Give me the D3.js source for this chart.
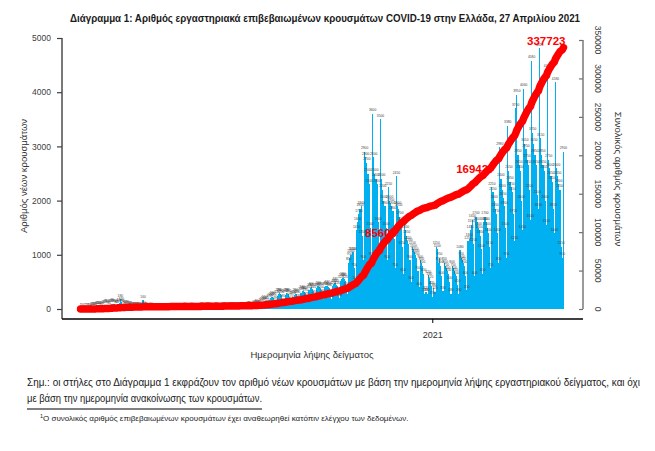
<!DOCTYPE html>
<html>
<head>
<meta charset="utf-8">
<script src="https://cdn.jsdelivr.net/npm/d3@7"></script>
<style>
  body { margin: 0; background: #fff; }
  text { font-family: "Liberation Sans Narrow", "Liberation Sans", Arial, sans-serif; }
</style>
</head>
<body>
<div id="chart"></div>

<script>
// daily new cases by sample date, one array per month (first day: 26 Feb 2020)
const startDate = "2020-02-26";
const feb2020 = [1, 2, 0, 1];
const mar2020 = [2,2,3,5,10,12,20,25,30,35,40,45,50,40,35,50,60,70,75,80,60,55,80,90,95,85,90,70,65,90,110];
const apr2020 = [180,120,90,70,50,60,70,55,50,45,30,25,30,25,20,25,30,20,15,20,160,40,25,20,15,10,15,20,15,10];
const may2020 = [10,8,5,12,15,10,12,15,8,4,10,12,15,10,8,6,3,10,12,8,15,10,5,3,8,10,12,20,15,6,4];
const jun2020 = [10,15,20,12,15,10,5,12,15,18,20,25,10,8,15,20,25,18,20,12,8,15,18,20,25,15,10,8,15,20];
const jul2020 = [20,25,18,12,8,20,25,30,35,30,20,15,25,30,35,30,25,15,10,30,35,40,45,40,25,20,50,60,70,80,60];
const aug2020 = [70,50,100,120,130,150,140,110,70,170,200,220,230,210,160,100,240,280,290,270,250,180,110,260,290,280,270,230,170,100,230];
const sep2020 = [250,280,270,240,180,110,300,340,330,320,290,220,150,350,380,400,370,340,250,170,380,420,400,390,350,260,180,400,420,430];
const oct2020 = [400,380,250,180,420,460,480,450,420,300,200,520,560,580,560,520,400,280,850,950,1000,1050,1050,750,500,1450,1600,1750,1850,1900,1350];
const nov2020 = [900,2900,2800,2700,2500,2300,1500,950,3600,2800,2500,2400,2300,1600,1050,3500,2400,2200,2000,1900,1500,900,2250,2000,1950,1900,1800,1300,750,2450];
const dec2020 = [1900,1850,1700,1600,1150,650,1550,1450,1350,1250,1200,900,500,1150,1100,1050,1000,950,700,400,900,850,800,650,280,320,280,620,580,520,420];
const jan2021 = [230,380,320,1150,1100,850,950,800,600,330,850,800,750,700,650,500,280,800,750,700,650,600,450,280,1080,950,900,850,800,600,350];
const feb2021 = [1250,1300,1450,1550,1650,1200,600,1700,1600,1500,1450,1350,1100,650,1600,1700,1600,1500,1400,1150,750,2250,2150,2000,1850,1750,1400,850];
const mar2021 = [2980,2400,2200,2050,1900,1500,950,3380,2550,2350,2250,2150,1750,1250,3700,3950,2850,2650,2550,2000,1450,4060,3050,2950,2750,2650,2200,1650,4580,3250,3050];
const apr2021 = [2850,2650,2100,1850,4810,3150,2850,2650,2550,2000,1550,4420,2750,2600,2450,2350,1850,1400,4180,2600,2450,2300,2200,1150,950,2900];

// labelled points of the cumulative line
const cumLabelDates = ["2020-11-20", "2021-02-11", "2021-04-26"];
const cumLabelTexts = ["85609", "169427", "337723"];

const leftTicks = [0, 1000, 2000, 3000, 4000, 5000];
const rightTicks = [0, 50000, 100000, 150000, 200000, 250000, 300000, 350000];

const title = "Διάγραμμα 1: Αριθμός εργαστηριακά επιβεβαιωμένων κρουσμάτων COVID-19 στην Ελλάδα, 27 Απριλίου 2021";
const leftTitle = "Αριθμός νέων κρουσμάτων";
const rightTitle = "Συνολικός αριθμός κρουσμάτων";
const xTitle = "Ημερομηνία λήψης δείγματος";
const note1 = "Σημ.: οι στήλες στο Διάγραμμα 1 εκφράζουν τον αριθμό νέων κρουσμάτων με βάση την ημερομηνία λήψης εργαστηριακού δείγματος, και όχι";
const note2 = "με βάση την ημερομηνία ανακοίνωσης των κρουσμάτων.";
const footnote = "Ο συνολικός αριθμός επιβεβαιωμένων κρουσμάτων έχει αναθεωρηθεί κατόπιν ελέγχου των δεδομένων.";

// ---------------------------------------------------------------
const values = [].concat(feb2020, mar2020, apr2020, may2020, jun2020, jul2020,
  aug2020, sep2020, oct2020, nov2020, dec2020, jan2021, feb2021, mar2021, apr2021);
const parse = d3.timeParse("%Y-%m-%d");
const fmt = d3.timeFormat("%Y-%m-%d");
const t0 = parse(startDate);
const cum = Array.from(d3.cumsum(values));
const data = values.map((v, i) => ({ date: d3.timeDay.offset(t0, i), value: v, total: cum[i] }));

const W = 655, H = 451;
const svg = d3.select("#chart").append("svg")
  .attr("width", W).attr("height", H)
  .style("background", "#fff");

const x = d3.scaleBand()
  .domain(data.map(d => fmt(d.date)))
  .range([80, 564])
  .paddingInner(0);

const yL = d3.scaleLinear().domain([0, 5000]).range([309, 38]);
const yR = d3.scaleLinear().domain([0, 350000]).range([309, 40]);

const cx = d => x(fmt(d.date)) + x.bandwidth() / 2;

// title
svg.append("text")
  .attr("x", 325).attr("y", 22)
  .attr("text-anchor", "middle")
  .attr("font-size", 10.5).attr("font-weight", "bold")
  .attr("textLength", 510).attr("lengthAdjust", "spacingAndGlyphs")
  .attr("fill", "#1a1a1a")
  .text(title);

// bars
svg.append("g").attr("shape-rendering", "crispEdges").selectAll("rect")
  .data(data)
  .join("rect")
    .attr("x", d => x(fmt(d.date)))
    .attr("y", d => yL(d.value))
    .attr("width", x.bandwidth())
    .attr("height", d => yL(0) - yL(d.value))
    .attr("fill", "#00b0f0");

// value labels on every bar
svg.append("g").selectAll("text")
  .data(data)
  .join("text")
    .attr("x", cx)
    .attr("y", d => yL(d.value) - 2.5)
    .attr("text-anchor", "middle")
    .attr("font-size", 3.3)
    .attr("fill", "#444")
    .text(d => d.value);

// left axis
const gL = svg.append("g").attr("transform", "translate(62,0)")
  .call(d3.axisLeft(yL).tickValues(leftTicks).tickSize(5).tickPadding(6).tickFormat(d3.format("d")));
gL.select(".domain").remove();
gL.selectAll(".tick line").attr("stroke", "#404040").attr("stroke-width", 1.2);
gL.selectAll(".tick text").attr("font-size", 8.5).attr("fill", "#404040")
  .style("font-family", "'Liberation Sans', Arial, sans-serif");
svg.append("line").attr("x1", 62).attr("x2", 62).attr("y1", 38).attr("y2", 319)
  .attr("stroke", "#404040").attr("stroke-width", 1.4);

// right axis
const gR = svg.append("g").attr("transform", "translate(583,0)")
  .call(d3.axisLeft(yR).tickValues(rightTicks).tickSize(4).tickFormat(""));
gR.select(".domain").remove();
gR.selectAll(".tick line").attr("stroke", "#707070").attr("stroke-width", 1.2);
svg.append("line").attr("x1", 583).attr("x2", 583).attr("y1", 40).attr("y2", 309)
  .attr("stroke", "#707070").attr("stroke-width", 1.4);
svg.append("g").selectAll("text")
  .data(rightTicks)
  .join("text")
    .attr("transform", d => `translate(595,${yR(d)}) rotate(90)`)
    .attr("text-anchor", "middle")
    .attr("font-size", 8.5)
    .attr("fill", "#404040")
    .style("font-family", "'Liberation Sans', Arial, sans-serif")
    .text(d => d3.format("d")(d));

// bottom axis line and the single year label
svg.append("line").attr("x1", 62).attr("x2", 583).attr("y1", 319).attr("y2", 319)
  .attr("stroke", "#000").attr("stroke-width", 1.4);
const jan1 = data.find(d => fmt(d.date) === "2021-01-01");
svg.append("line").attr("x1", cx(jan1)).attr("x2", cx(jan1)).attr("y1", 319).attr("y2", 323)
  .attr("stroke", "#000").attr("stroke-width", 1);
svg.append("text").attr("x", cx(jan1)).attr("y", 338)
  .attr("text-anchor", "middle").attr("font-size", 9).attr("fill", "#333")
  .text("2021");

// axis titles
svg.append("text").attr("transform", "translate(27,176) rotate(-90)")
  .attr("text-anchor", "middle").attr("font-size", 9.5).attr("fill", "#333")
  .text(leftTitle);
svg.append("text").attr("transform", "translate(615,179) rotate(90)")
  .attr("text-anchor", "middle").attr("font-size", 9.5).attr("fill", "#333")
  .text(rightTitle);
svg.append("text").attr("x", 312).attr("y", 358)
  .attr("text-anchor", "middle").attr("font-size", 9.5).attr("fill", "#333")
  .text(xTitle);

// cumulative line
svg.append("path")
  .datum(data)
  .attr("fill", "none")
  .attr("stroke", "#ff0000")
  .attr("stroke-width", 7.5)
  .attr("stroke-linecap", "round")
  .attr("stroke-linejoin", "round")
  .attr("d", d3.line().x(cx).y(d => yR(d.total)));

// cumulative labels
const labelPts = cumLabelDates.map((s, i) => ({ d: data.find(d => fmt(d.date) === s), text: cumLabelTexts[i], last: i === cumLabelDates.length - 1 }));
svg.append("g").selectAll("text")
  .data(labelPts)
  .join("text")
    .attr("x", p => p.last ? cx(p.d) + 2 : cx(p.d) - 4)
    .attr("y", p => yR(p.d.total) - (p.last ? 3 : 5))
    .attr("text-anchor", p => p.last ? "end" : "middle")
    .attr("font-size", 11.5)
    .attr("font-weight", "bold")
    .attr("fill", "#ff0000")
    .style("font-family", "'Liberation Sans', Arial, sans-serif")
    .text(p => p.text);

// notes under the chart
svg.append("text").attr("x", 27).attr("y", 386)
  .attr("font-size", 10).attr("fill", "#1a1a1a")
  .attr("textLength", 613).attr("lengthAdjust", "spacingAndGlyphs")
  .text(note1);
svg.append("text").attr("x", 27).attr("y", 402)
  .attr("font-size", 10).attr("fill", "#1a1a1a")
  .attr("textLength", 235).attr("lengthAdjust", "spacingAndGlyphs")
  .text(note2);
svg.append("line").attr("x1", 27).attr("x2", 262).attr("y1", 409).attr("y2", 409)
  .attr("stroke", "#000").attr("stroke-width", 1);
const fn = svg.append("text").attr("x", 40).attr("y", 421)
  .attr("font-size", 8).attr("fill", "#1a1a1a");
fn.append("tspan").attr("font-size", 5.5).attr("dy", -3).text("1");
fn.append("tspan").attr("dy", 3).text(footnote);
</script>
</body>
</html>
